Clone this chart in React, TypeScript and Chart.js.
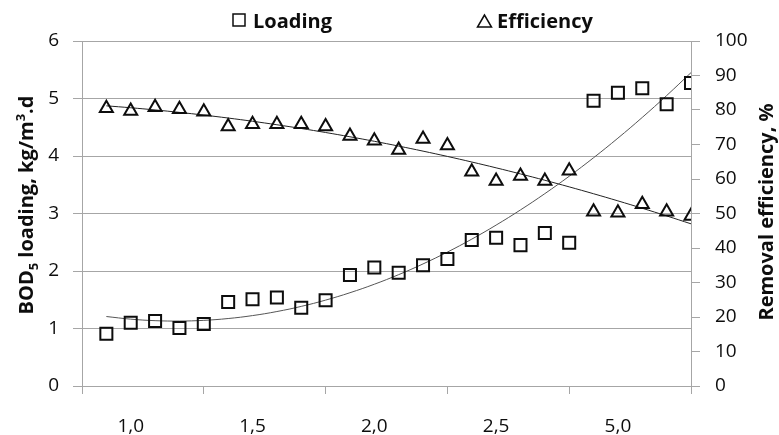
import React, { useEffect, useRef } from "react";
import { Chart, registerables } from "chart.js";

Chart.register(...registerables);

// sample positions along the category axis
const samples = [1, 2, 3, 4, 5, 6, 7, 8, 9, 10, 11, 12, 13, 14, 15, 16, 17, 18, 19, 20, 21, 22, 23, 24, 25];
// BOD5 loading, kg/m3.d (left axis)
const loading = [0.91, 1.1, 1.13, 1.01, 1.08, 1.46, 1.51, 1.54, 1.36, 1.49, 1.93, 2.06, 1.97, 2.1, 2.21, 2.54, 2.58, 2.45, 2.66, 2.49, 4.96, 5.1, 5.18, 4.9, 5.27];
// Removal efficiency, % (right axis)
const efficiency = [80.5, 79.7, 80.8, 80.2, 79.5, 75.2, 75.9, 75.9, 75.9, 75.2, 72.5, 71.1, 68.4, 71.6, 69.7, 62.1, 59.4, 60.9, 59.4, 62.4, 50.5, 50.2, 52.7, 50.5, 49.3];
// x tick labels and where they sit
const xTickLabels = ["1,0", "1,5", "2,0", "2,5", "5,0"];
const xLabelPos = [2, 7, 12, 17, 22];
const xBoundaries = [0, 5, 10, 15, 20, 25];

const FONT = "'Open Sans', sans-serif";
const GRID = "#a6a6a6";
const TEXT = "#0d0d0d";

function polyFit2(xs: number[], ys: number[]) {
  // least squares quadratic y = a + b x + c x^2
  const S = [0, 0, 0, 0, 0];
  const T = [0, 0, 0];
  for (let i = 0; i < xs.length; i++) {
    let p = 1;
    for (let k = 0; k < 5; k++) {
      S[k] += p;
      if (k < 3) T[k] += p * ys[i];
      p *= xs[i];
    }
  }
  const M = [
    [S[0], S[1], S[2], T[0]],
    [S[1], S[2], S[3], T[1]],
    [S[2], S[3], S[4], T[2]],
  ];
  for (let i = 0; i < 3; i++) {
    let piv = i;
    for (let r = i + 1; r < 3; r++) if (Math.abs(M[r][i]) > Math.abs(M[piv][i])) piv = r;
    [M[i], M[piv]] = [M[piv], M[i]];
    for (let r = 0; r < 3; r++) {
      if (r === i) continue;
      const f = M[r][i] / M[i][i];
      for (let c = i; c < 4; c++) M[r][c] -= f * M[i][c];
    }
  }
  const coef = [M[0][3] / M[0][0], M[1][3] / M[1][1], M[2][3] / M[2][2]];
  return (x: number) => coef[0] + coef[1] * x + coef[2] * x * x;
}

function drawRich(ctx: CanvasRenderingContext2D, segs: { t: string; small?: boolean; dy?: number }[], size: number) {
  const big = `bold ${size}px ${FONT}`;
  const small = `bold ${Math.round(size * 0.65)}px ${FONT}`;
  let total = 0;
  for (const s of segs) {
    ctx.font = s.small ? small : big;
    total += ctx.measureText(s.t).width;
  }
  let x = -total / 2;
  for (const s of segs) {
    ctx.font = s.small ? small : big;
    ctx.fillText(s.t, x, s.dy || 0);
    x += ctx.measureText(s.t).width;
  }
}

const decorPlugin = {
  id: "decor",
  afterDraw(chart: any) {
    const ctx: CanvasRenderingContext2D = chart.ctx;
    ctx.save();
    ctx.fillStyle = TEXT;
    ctx.strokeStyle = TEXT;
    ctx.textBaseline = "alphabetic";
    ctx.textAlign = "left";
    // legend
    ctx.lineWidth = 1.5;
    ctx.strokeRect(233, 14, 12, 12);
    ctx.font = `bold 20px ${FONT}`;
    ctx.fillText("Loading", 253, 28);
    ctx.beginPath();
    ctx.moveTo(484.5, 15);
    ctx.lineTo(477.5, 27);
    ctx.lineTo(491.5, 27);
    ctx.closePath();
    ctx.stroke();
    ctx.fillText("Efficiency", 497, 28);
    // left axis title
    ctx.save();
    ctx.translate(33, 205);
    ctx.rotate(-Math.PI / 2);
    drawRich(ctx, [
      { t: "BOD" },
      { t: "5", small: true, dy: 5 },
      { t: " loading, kg/m" },
      { t: "3", small: true, dy: -8 },
      { t: ".d" },
    ], 20);
    ctx.restore();
    // right axis title
    ctx.save();
    ctx.translate(773, 212);
    ctx.rotate(-Math.PI / 2);
    drawRich(ctx, [{ t: "Removal efficiency, %" }], 20);
    ctx.restore();
    ctx.restore();
  },
};

export default function App() {
  const ref = useRef<HTMLCanvasElement>(null);
  useEffect(() => {
    if (!ref.current) return;
    const fitL = polyFit2(samples, loading);
    const fitE = polyFit2(samples, efficiency);
    const chart = new Chart(ref.current, {
      type: "line",
      data: {
        datasets: [
          {
            label: "Loading",
            data: samples.map((x, i) => ({ x, y: loading[i] })),
            yAxisID: "y",
            showLine: false,
            pointStyle: "rect",
            pointRadius: 8.5,
            pointBorderWidth: 2,
            pointBorderColor: TEXT,
            pointBackgroundColor: "rgba(0,0,0,0)",
          },
          {
            label: "Efficiency",
            data: samples.map((x, i) => ({ x, y: efficiency[i] })),
            yAxisID: "y2",
            showLine: false,
            pointStyle: "triangle",
            pointRadius: 7.5,
            pointBorderWidth: 2,
            pointBorderColor: TEXT,
            pointBackgroundColor: "rgba(0,0,0,0)",
          },
          {
            label: "Loading trend",
            data: samples.map((x) => ({ x, y: fitL(x) })),
            yAxisID: "y",
            pointRadius: 0,
            borderWidth: 1,
            borderColor: "#555",
            tension: 0.4,
          },
          {
            label: "Efficiency trend",
            data: samples.map((x) => ({ x, y: fitE(x) })),
            yAxisID: "y2",
            pointRadius: 0,
            borderWidth: 1,
            borderColor: "#222",
            tension: 0.4,
          },
        ],
      },
      options: {
        responsive: false,
        animation: false,
        layout: { padding: { top: 41, left: 0, right: 0, bottom: 0 } },
        plugins: { legend: { display: false }, tooltip: { enabled: false } },
        scales: {
          x: {
            type: "linear",
            min: 0,
            max: 25,
            afterBuildTicks: (scale: any) => {
              const vals = [...xBoundaries, ...xLabelPos].sort((a, b) => a - b);
              scale.ticks = vals.map((v) => ({ value: v }));
            },
            afterFit: (scale: any) => {
              scale.height = 49;
            },
            grid: {
              drawOnChartArea: false,
              tickLength: 8,
              color: (c: any) => (c.tick && xBoundaries.includes(c.tick.value) ? GRID : "rgba(0,0,0,0)"),
            },
            border: { color: GRID },
            ticks: {
              autoSkip: false,
              maxRotation: 0,
              minRotation: 0,
              padding: 21,
              color: TEXT,
              font: { family: FONT, size: 19 },
              callback: (v: any) => {
                const i = xLabelPos.indexOf(Number(v));
                return i >= 0 ? xTickLabels[i] : "";
              },
            },
          },
          y: {
            position: "left",
            min: 0,
            max: 6,
            afterFit: (scale: any) => {
              scale.width = 82;
            },
            grid: { color: GRID, tickLength: 9 },
            border: { color: GRID },
            ticks: { stepSize: 1, padding: 14, color: TEXT, font: { family: FONT, size: 19 } },
          },
          y2: {
            position: "right",
            min: 0,
            max: 100,
            afterFit: (scale: any) => {
              scale.width = 88;
            },
            grid: { drawOnChartArea: false, color: GRID, tickLength: 9 },
            border: { color: GRID },
            ticks: { stepSize: 10, padding: 15, color: TEXT, font: { family: FONT, size: 19 } },
          },
        },
      },
      plugins: [decorPlugin],
    });
    return () => chart.destroy();
  }, []);
  return (
    <div style={{ position: "absolute", left: 0, top: 0, width: 779, height: 435 }}>
      <canvas ref={ref} width={779} height={435} style={{ display: "block" }} />
    </div>
  );
}
